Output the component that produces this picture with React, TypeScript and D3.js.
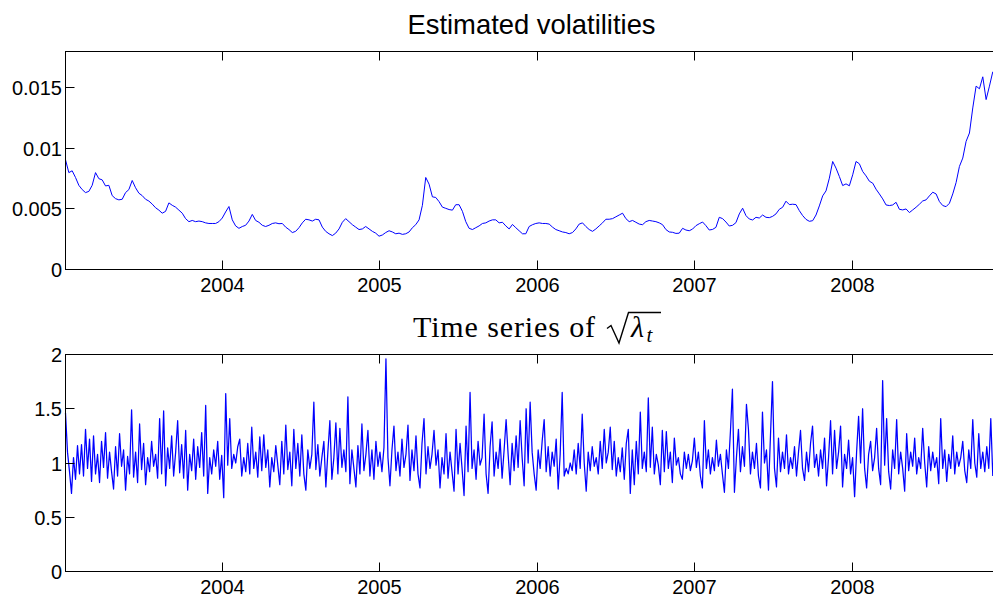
import React from 'react';
import * as d3 from 'd3';

// Time span covered by both series (fractional years) and the axis window.
const SERIES_START = 2003.004;
const SERIES_END = 2008.892;
const X_DOMAIN: [number, number] = [2003.004, 2009.0013];

const yearTicks = [2004, 2005, 2006, 2007, 2008];

const volTicks = [0, 0.005, 0.01, 0.015];
const volTickLabels = ['0', '0.005', '0.01', '0.015'];
const VOL_MAX = 0.018;
const VOL_UNIT = 1e-3;

const lamTicks = [0, 0.5, 1, 1.5, 2];
const lamTickLabels = ['0', '0.5', '1', '1.5', '2'];
const LAM_MAX = 2;

// Estimated volatility, in units of 1e-3, evenly spaced in time.
const volatility = [
  9.06, 8.0, 8.15, 7.6, 6.95, 6.6, 6.35, 6.45, 6.95, 8.0, 7.5, 7.4, 6.9, 6.95, 6.1, 5.85, 5.75, 5.8, 6.35, 6.6,
  7.35, 6.75, 6.3, 6.1, 5.8, 5.65, 5.4, 5.1, 4.9, 4.65, 4.8, 5.5, 5.3, 5.15, 4.9, 4.65, 4.2, 3.95, 4.05, 3.95,
  4.0, 3.95, 3.85, 3.8, 3.8, 3.8, 3.95, 4.25, 4.75, 5.2, 4.1, 3.6, 3.4, 3.55, 3.65, 4.0, 4.55, 4.05, 3.9, 3.65,
  3.55, 3.65, 3.8, 3.85, 3.78, 3.8, 3.5, 3.3, 3.05, 3.15, 3.45, 3.85, 4.15, 4.1, 4.0, 4.15, 4.1, 3.5, 3.15, 2.95,
  2.8, 3.0, 3.35,
  3.9, 4.2, 3.95, 3.7, 3.5, 3.3, 3.35, 3.55, 3.35, 3.15, 3.0, 2.75, 2.85, 3.05, 3.2, 3.1, 2.95, 3.0, 2.9, 2.95,
  3.1, 3.45, 3.7, 4.1, 5.3, 7.6, 7.05, 6.0, 5.95, 5.6, 5.15, 5.05, 4.95, 4.9, 5.35, 5.35, 4.8, 3.95, 3.4, 3.3,
  3.45, 3.6, 3.8, 3.85, 4.0, 4.1, 4.1, 3.85, 3.9, 3.6, 3.35, 3.72, 3.45, 3.2, 2.95, 2.95, 3.55, 3.7, 3.8, 3.85,
  3.8, 3.8, 3.75, 3.5, 3.3, 3.2, 3.1, 3.05, 2.95, 3.05, 3.35, 3.75, 3.85, 3.55, 3.3, 3.15, 3.35, 3.6, 3.85, 4.15,
  4.15, 4.2, 4.35, 4.5, 4.65, 4.2, 3.95, 4.05, 3.9, 3.75, 3.7, 3.95, 4.05, 4.0, 3.95, 3.85, 3.7, 3.3, 3.1,
  3.07, 2.98, 3.0, 3.4, 3.26, 3.2, 3.34, 3.62, 3.78, 3.92, 3.62, 3.26, 3.31, 3.48, 4.31, 4.2, 3.92, 3.59, 3.65, 3.87,
  4.59, 5.06, 4.45, 4.17, 4.09, 4.31, 4.25, 4.5, 4.31, 4.28, 4.39, 4.59, 4.97, 5.14, 5.64, 5.36, 5.39, 5.36, 4.86, 4.45,
  4.14, 3.98, 4.03, 4.5, 5.25, 6.08, 6.49, 7.54, 8.92, 8.37, 7.68, 6.93, 7.07, 6.91, 7.82, 8.92, 8.73, 8.09, 7.73, 7.29,
  7.13, 6.63, 6.24, 5.83, 5.33, 5.28, 5.33, 5.55, 4.97, 4.92, 5.0, 4.7, 4.92, 5.14, 5.39, 5.66, 5.75, 6.08, 6.38, 6.24,
  5.61, 5.28, 5.19, 5.47, 6.24, 7.18, 8.51, 9.2, 10.58, 11.27, 13.34, 15.14, 14.92, 15.91, 14.03, 15.14, 16.33,
];

// Square root of lambda_t, evenly spaced in time.
const sqrtLambda = [
  1.46, 1.1, 0.92, 0.72, 1.05, 0.85, 1.16, 0.9, 1.17, 0.88, 1.31, 0.95, 1.22, 0.83, 1.25, 0.9, 1.08, 0.82, 1.2, 0.96,
  1.28, 0.86, 1.1, 0.92, 0.76, 1.15, 0.88, 1.27, 0.97, 1.12, 0.75, 1.06, 0.9, 1.49, 0.87, 1.1, 0.82, 1.36, 0.94, 1.18,
  0.8, 1.05, 0.92, 1.2, 0.97, 1.08, 0.86, 1.41, 0.9, 1.48, 0.79, 1.14, 0.95, 1.25, 0.88, 1.1, 1.39, 0.91, 1.17, 0.86,
  1.3, 0.75, 1.08, 0.93, 1.22, 0.85, 1.15, 0.96, 1.28, 0.88, 1.53, 0.72, 1.05, 0.9, 1.12, 0.97, 1.2, 0.85, 1.07, 0.68,
  1.64, 0.98, 1.41, 0.95, 1.08, 1.0, 1.15, 1.22, 0.88, 1.05, 0.92, 1.18, 0.9, 1.33, 0.95, 1.1, 0.87, 1.24, 0.93, 1.26,
  0.96, 1.12, 0.78, 1.05, 0.92, 1.16, 0.98, 0.8, 1.2, 0.9, 1.35, 0.94, 1.1, 0.79, 1.31, 0.95, 1.18, 0.88, 1.26, 0.9,
  0.75, 1.12, 0.95, 1.08, 1.56, 0.94, 1.17, 0.88, 1.05, 1.2, 0.78, 1.1, 1.39, 0.85, 1.05, 1.37, 0.9, 1.32, 0.96, 1.12,
  0.92, 1.61, 0.81, 1.12, 0.95, 0.78, 1.16, 0.9, 1.36, 0.93, 1.08, 1.3, 0.88, 1.12, 0.85, 1.2, 0.97, 1.1, 0.92, 1.14,
  1.96, 1.05, 0.79, 1.12, 1.34, 0.93, 1.1, 0.88, 1.22, 0.96, 1.08, 1.35, 0.84, 1.12, 0.93, 1.25, 0.9, 0.77, 1.18, 1.41,
  0.9, 1.15, 0.95, 1.08, 1.3, 0.98, 1.12, 0.77, 1.05, 0.9, 1.27, 0.86, 1.1, 0.92, 0.74, 1.31, 0.9, 1.18, 0.95, 0.7,
  1.34, 0.92, 1.65, 0.95, 1.12, 0.85, 1.2, 0.98, 1.05, 1.45, 0.9, 0.72, 1.15, 1.38, 0.88, 1.1, 0.95, 1.22, 0.86, 1.12,
  1.4, 1.08, 0.8, 1.18, 0.93, 1.25, 0.96, 1.39, 1.05, 0.79, 1.5, 1.0, 1.56, 1.1, 0.9, 0.75, 1.12, 0.95, 1.2, 1.4,
  0.92, 1.15, 0.88, 1.1, 0.97, 1.22, 0.76, 1.08, 1.65, 0.88, 0.95, 0.9, 1.0, 0.93, 1.12, 0.9, 1.18, 0.95, 1.45, 1.0,
  0.74, 1.1, 0.93, 1.15, 0.97, 1.05, 0.9, 1.2, 0.95, 1.31, 1.0, 1.1, 1.33, 0.94, 1.2, 0.88, 1.05, 0.92, 1.14, 0.85,
  1.18, 1.31, 0.72, 1.12, 0.8, 1.2, 0.9, 1.47, 0.95, 1.1, 0.92, 1.6, 0.96, 1.33, 0.9, 1.08, 0.98, 0.8, 1.3, 0.92,
  1.29, 0.95, 1.1, 0.82, 1.23, 0.98, 1.05, 0.9, 0.85, 1.1, 0.95, 1.08, 0.93, 1.02, 1.23, 0.96, 1.1, 0.88, 0.77, 1.39,
  0.95, 1.12, 0.9, 1.05, 0.93, 1.21, 0.97, 1.08, 0.9, 0.73, 1.12, 0.95, 1.29, 1.68, 0.73, 1.05, 1.31, 0.92, 1.15, 0.97,
  1.54, 1.31, 0.9, 1.1, 0.95, 1.18, 0.88, 0.77, 1.47, 1.0, 1.12, 0.75, 1.25, 1.75, 0.95, 0.78, 1.23, 0.92, 1.1, 0.95,
  1.26, 0.9, 1.05, 0.95, 1.15, 0.88, 1.1, 1.3, 0.95, 0.84, 1.1, 0.92, 1.18, 1.34, 0.96, 1.08, 0.88, 1.12, 0.95, 1.23,
  0.79, 1.05, 1.39, 0.9, 1.3, 0.95, 1.1, 1.34, 0.78, 1.08, 0.95, 1.21, 0.9, 1.05, 0.69, 1.1, 1.43, 1.0, 1.5, 0.95,
  0.77, 1.08, 1.2, 0.93, 1.05, 1.32, 0.95, 0.8, 1.76, 0.98, 1.41, 0.92, 0.76, 1.12, 0.95, 1.4, 0.9, 1.1, 0.95, 0.74,
  1.27, 0.93, 1.1, 0.97, 1.23, 0.9, 1.05, 0.95, 1.32, 1.0, 0.78, 1.15, 0.93, 1.1, 0.96, 1.05, 0.81, 1.41, 0.95, 1.12,
  0.83, 1.08, 0.95, 1.25, 0.9, 1.1, 0.97, 1.05, 1.2, 0.93, 0.82, 1.12, 0.95, 1.4, 1.0, 0.87, 1.27, 0.95, 1.1, 0.92,
  1.15, 0.95, 1.41, 0.88,
];

const SANS = '"Liberation Sans", Arial, Helvetica, sans-serif';
const SERIF = '"Liberation Serif", "Times New Roman", serif';

// The axes box runs past the right edge of the canvas.
const LEFT = 65.5;
const RIGHT = 1010;
const TICK = 9;

const crisp = (v: number) => Math.round(v - 0.5) + 0.5;

type PanelProps = {
  top: number;
  bottom: number;
  yMax: number;
  ticks: number[];
  tickLabels: string[];
  values: number[];
  lineWidth: number;
};

function Panel({ top, bottom, yMax, ticks, tickLabels, values, lineWidth }: PanelProps) {
  const x = d3.scaleLinear().domain(X_DOMAIN).range([LEFT, RIGHT]);
  const y = d3.scaleLinear().domain([0, yMax]).range([bottom, top]);
  const t = d3.scaleLinear().domain([0, values.length - 1]).range([SERIES_START, SERIES_END]);
  const line = d3
    .line<number>()
    .x((_, i) => x(t(i)))
    .y((d) => y(d));

  return (
    <g>
      <path d={line(values) ?? ''} fill="none" stroke="#0000ff" strokeWidth={lineWidth} strokeLinejoin="round" />
      <rect x={LEFT} y={top} width={RIGHT - LEFT} height={bottom - top} fill="none" stroke="#000" strokeWidth={1} />
      {yearTicks.map((yr) => {
        const xx = crisp(x(yr));
        return (
          <g key={yr}>
            <line x1={xx} x2={xx} y1={bottom} y2={bottom - TICK} stroke="#000" />
            <line x1={xx} x2={xx} y1={top} y2={top + TICK} stroke="#000" />
            <text x={xx} y={bottom + 22} textAnchor="middle" fontFamily={SANS} fontSize={20} fill="#000">
              {yr}
            </text>
          </g>
        );
      })}
      {ticks.map((v, i) => {
        const yy = crisp(y(v));
        return (
          <g key={i}>
            <line x1={LEFT} x2={LEFT + TICK} y1={yy} y2={yy} stroke="#000" />
            <line x1={RIGHT} x2={RIGHT - TICK} y1={yy} y2={yy} stroke="#000" />
            <text
              x={LEFT - 3.5}
              y={yy}
              textAnchor="end"
              dominantBaseline="central"
              fontFamily={SANS}
              fontSize={20}
              fill="#000"
            >
              {tickLabels[i]}
            </text>
          </g>
        );
      })}
    </g>
  );
}

export default function App() {
  const volValues = volatility.map((v) => v * VOL_UNIT);
  return (
    <svg
      width={993}
      height={598}
      viewBox="0 0 993 598"
      style={{ position: 'absolute', left: 0, top: 0, background: '#fff', display: 'block' }}
    >
      <rect x={0} y={0} width={993} height={598} fill="#fff" />
      <text x={531.5} y={34} textAnchor="middle" fontFamily={SANS} fontSize={27.4} fill="#000">
        Estimated volatilities
      </text>
      <Panel
        top={51.5}
        bottom={269.5}
        yMax={VOL_MAX}
        ticks={volTicks}
        tickLabels={volTickLabels}
        values={volValues}
        lineWidth={1}
      />

      <g fill="#000">
        <text x={413} y={337} fontFamily={SERIF} fontSize={30} textLength={182} lengthAdjust="spacing">
          Time series of
        </text>
        <path
          d="M607,328.5 L611,325.5 L619,343 L628.5,312.5 L661,312.5"
          fill="none"
          stroke="#000"
          strokeWidth={1.4}
          strokeLinejoin="miter"
        />
        <text x={631} y={337} fontFamily={SERIF} fontSize={30} fontStyle="italic">
          λ
        </text>
        <text x={646.5} y={342} fontFamily={SERIF} fontSize={21} fontStyle="italic">
          t
        </text>
      </g>
      <Panel
        top={354.5}
        bottom={571.5}
        yMax={LAM_MAX}
        ticks={lamTicks}
        tickLabels={lamTickLabels}
        values={sqrtLambda}
        lineWidth={1.25}
      />
    </svg>
  );
}
